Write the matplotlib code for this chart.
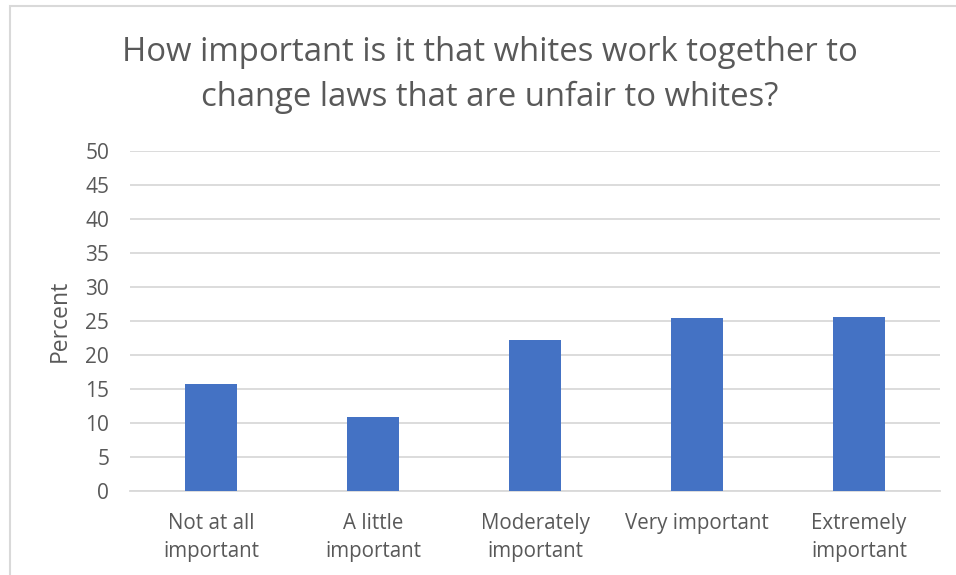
import matplotlib
matplotlib.use("Agg")
import matplotlib.pyplot as plt
from matplotlib.patches import Rectangle

categories = ["Not at all\nimportant", "A little\nimportant", "Moderately\nimportant",
              "Very important", "Extremely\nimportant"]
percent = [15.7, 10.9, 22.2, 25.5, 25.6]
y_ticks = list(range(0, 55, 5))
title = "How important is it that whites work together to\nchange laws that are unfair to whites?"

text_color = "#595959"
bar_color = "#4472C4"
grid_color = "#D9D9D9"
font = ["Open Sans", "DejaVu Sans"]
plt.rcParams["font.family"] = font

fig = plt.figure(figsize=(9.56, 5.75), dpi=100)
ax = fig.add_axes([130 / 956, 1 - 491 / 575, 810 / 956, 340 / 575])

x = list(range(len(categories)))
ax.bar(x, percent, width=0.315, color=bar_color, zorder=3)

ax.set_xlim(-0.5, len(categories) - 0.5)
ax.set_ylim(0, 50)
ax.set_yticks(y_ticks)
ax.set_yticklabels([str(t) for t in y_ticks], color=text_color, fontsize=15)
ax.set_xticks(x)
ax.set_xticklabels(categories, color=text_color, fontsize=14.8, linespacing=1.45)
ax.tick_params(axis="x", length=0, pad=16)
ax.tick_params(axis="y", length=0, pad=15)

ax.grid(axis="y", color=grid_color, linewidth=1.3, zorder=0)
for side in ["top", "right", "left"]:
    ax.spines[side].set_visible(False)
ax.spines["bottom"].set_color(grid_color)
ax.spines["bottom"].set_linewidth(1.3)

ax.set_ylabel("Percent", color=text_color, fontsize=16.5, labelpad=10)

fig.text(490 / 956, 1 - 75 / 575, title, ha="center", va="center",
         fontsize=23.7, color=text_color, linespacing=1.45)

# chart-area frame
fig.patches.append(Rectangle((10 / 956, -0.1), 1.2, 1 - 6 / 575 + 0.1,
                             transform=fig.transFigure, fill=False,
                             edgecolor=grid_color, linewidth=1.5))

fig.savefig("out.png", dpi=100)
